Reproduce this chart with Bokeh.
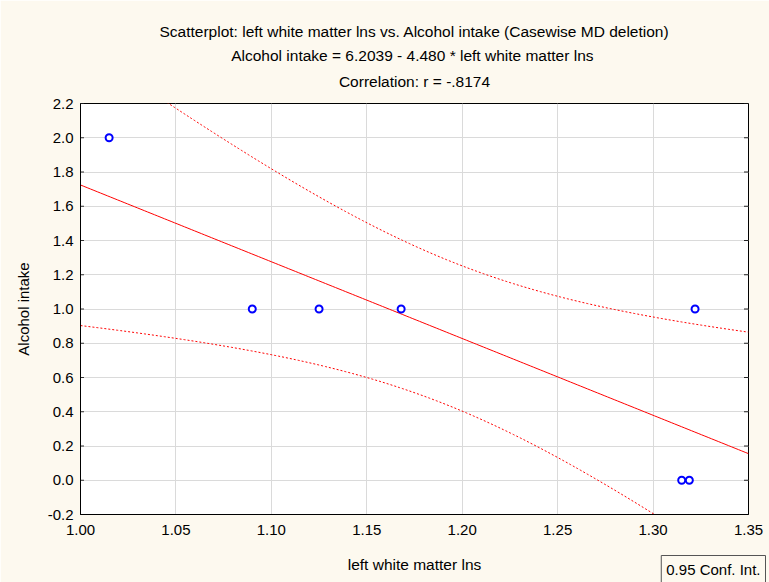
import numpy as np
from bokeh.plotting import figure
from bokeh.models import Range1d, FixedTicker, Title, PrintfTickFormatter
from bokeh.embed import file_html
from bokeh.resources import INLINE

# ---- data ----
x_vals = [1.015, 1.090, 1.125, 1.168, 1.322, 1.315, 1.319]
y_vals = [2.0, 1.0, 1.0, 1.0, 1.0, 0.0, 0.0]
x_ticks = [1.00, 1.05, 1.10, 1.15, 1.20, 1.25, 1.30, 1.35]
y_ticks = [-0.2, 0.0, 0.2, 0.4, 0.6, 0.8, 1.0, 1.2, 1.4, 1.6, 1.8, 2.0, 2.2]
title_lines = [
    "Scatterplot: left white matter lns vs. Alcohol intake (Casewise MD deletion)",
    "Alcohol intake = 6.2039 - 4.480  * left white matter lns",
    "Correlation: r = -.8174",
]
x_label = "left white matter lns"
y_label = "Alcohol intake"
legend_text = "0.95 Conf. Int."
t_crit = 2.5706  # t(0.975, df=5)

# ---- regression and 95% confidence band derived from the data ----
xa = np.array(x_vals)
ya = np.array(y_vals)
n = len(xa)
slope, intercept = np.polyfit(xa, ya, 1)
resid = ya - (intercept + slope * xa)
s = np.sqrt(np.sum(resid ** 2) / (n - 2))
sxx = np.sum((xa - xa.mean()) ** 2)
xg = np.linspace(x_ticks[0], x_ticks[-1], 200)
yfit = intercept + slope * xg
half = t_crit * s * np.sqrt(1.0 / n + (xg - xa.mean()) ** 2 / sxx)

FONT = "Liberation Sans"
BG = "#fdf9ef"
FS = "15px"

p = figure(width=769, height=582, output_backend="svg", toolbar_location=None,
           x_range=Range1d(x_ticks[0], x_ticks[-1]), y_range=Range1d(y_ticks[0], y_ticks[-1]),
           min_border_left=80, min_border_right=21, min_border_top=103, min_border_bottom=68)
p.background_fill_color = "white"
p.border_fill_color = BG
p.outline_line_color = "black"
p.outline_line_width = 1

for ax in (p.xaxis[0], p.yaxis[0]):
    ax.major_label_text_font = FONT
    ax.major_label_text_font_size = FS
    ax.major_label_text_color = "black"
    ax.axis_label_text_font = FONT
    ax.axis_label_text_font_size = FS
    ax.axis_label_text_font_style = "normal"
    ax.axis_label_text_color = "black"
    ax.minor_tick_line_color = None
    ax.axis_line_color = "black"
    ax.major_tick_in = 0
    ax.major_tick_out = 0

p.xaxis[0].ticker = FixedTicker(ticks=x_ticks)
p.yaxis[0].ticker = FixedTicker(ticks=y_ticks)
p.xaxis[0].formatter = PrintfTickFormatter(format="%.2f")
p.yaxis[0].formatter = PrintfTickFormatter(format="%.1f")
p.xaxis[0].axis_label = x_label
p.yaxis[0].axis_label = y_label
p.xaxis[0].axis_label_text_font_size = "15.5px"
p.xaxis[0].major_label_standoff = 10
p.xaxis[0].axis_label_standoff = 18
p.yaxis[0].major_label_standoff = 7
p.yaxis[0].axis_label_standoff = 13

p.xgrid.ticker = FixedTicker(ticks=x_ticks)
p.ygrid.ticker = FixedTicker(ticks=y_ticks)
p.grid.grid_line_color = "#dadada"
p.grid.grid_line_width = 1

# inward tick marks on left and right frame edges (half of each dash is clipped)
p.scatter([x_ticks[0]] * len(y_ticks), y_ticks, marker="dash", size=7,
          line_color="#333333", line_width=1)
p.scatter([x_ticks[-1]] * len(y_ticks), y_ticks, marker="dash", size=9,
          line_color="#222222", line_width=1)

p.line(xg, yfit, line_color="#ff0000", line_width=1)
p.line(xg, yfit + half, line_color="#ff0000", line_width=1, line_dash="2 2")
p.line(xg, yfit - half, line_color="#ff0000", line_width=1, line_dash="2 2")
p.scatter(x_vals, y_vals, marker="circle", size=7, line_color="#0000ff",
          line_width=2, fill_color="white")

# titles: the first added sits closest to the plot frame; standoff sets each panel's height
title_standoffs = [24, -14, 28]  # for title_lines[0], [1], [2]
for txt, so in reversed(list(zip(title_lines, title_standoffs))):
    p.add_layout(Title(text=txt, align="center", text_font=FONT, text_font_size="15.5px",
                       text_font_style="normal", text_color="black", standoff=so), "above")

p.add_layout(Title(text=legend_text, align="right", offset=-17, vertical_align="top",
                   text_font=FONT, text_font_size=FS, text_font_style="normal",
                   text_color="black", border_line_color="#555555", border_line_width=1,
                   padding=5, background_fill_color=BG, standoff=-40), "below")

open("out.html", "w").write(file_html(p, INLINE))
